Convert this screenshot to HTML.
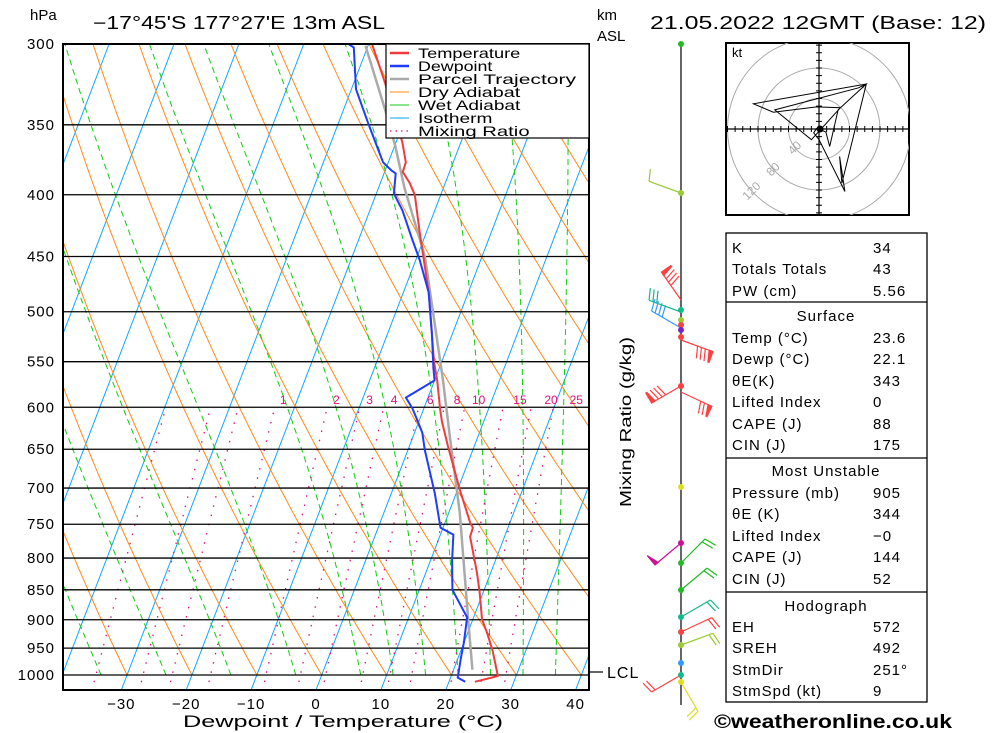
<!DOCTYPE html>
<html><head><meta charset="utf-8"><style>
html,body{margin:0;padding:0;background:#fff;}
svg{display:block;font-family:"Liberation Sans",sans-serif;}
</style></head><body>
<svg id="chart" width="1000" height="733" viewBox="0 0 1000 733" xmlns="http://www.w3.org/2000/svg">
<defs><clipPath id="plotClip"><rect x="63" y="44" width="526" height="646"/></clipPath>
<clipPath id="hodoClip"><rect x="726" y="43" width="183" height="172"/></clipPath></defs>
<g id="bg" clip-path="url(#plotClip)"></g>
<g id="grid"></g>
<g id="series" clip-path="url(#plotClip)"></g>
<rect x="63" y="44" width="526" height="646" fill="none" stroke="#000" stroke-width="2"/>
<g id="legend"></g>
<g id="labels"></g>
<g id="wind"></g>
<g id="hodo"></g>
<g id="table"></g>
</svg>
<script>
// ---- data ----
const pressureLevels=[300,350,400,450,500,550,600,650,700,750,800,850,900,950,1000];
const tempTicks=[-30,-20,-10,0,10,20,30,40];
const tempP=[1013,1002,953,923,899,855,823,768,755,748,703,647,617,603,570,550,482,428,400,391,383,376,362,323,300];
const tempT=[24.0,27.2,24.8,23.0,21.4,19.5,17.9,14.7,14.6,13.9,10.4,6.0,3.6,2.6,0.4,-1.2,-6.1,-11.2,-14.0,-15.5,-17.2,-17.3,-19.0,-25.2,-29.5];
const dewP=[1013,1005,966,941,896,850,803,765,755,707,651,630,617,601,589,570,557,521,482,453,436,412,399,384,382,376,367,349,327,302,300];
const dewT=[22.5,21.1,20.4,20.0,19.0,15.1,13.3,12.0,9.6,6.7,2.6,1.2,-0.1,-1.8,-3.4,0.0,-0.9,-3.2,-6.1,-9.4,-11.7,-15.0,-17.3,-18.2,-19.0,-20.8,-22.3,-25.4,-29.3,-32.1,-33.1];
const parcelP=[990,900,734,635,570,553,450,394,365,340,301];
const parcelT=[22.9,19.3,11.7,5.7,1.3,0.0,-8.8,-16.1,-19.8,-23.6,-30.4];
const mixRatios=[1,2,3,4,6,8,10,15,20,25];
const mixExtra=[0.2,0.4,0.6];
const dryStartT=[-60,-50,-40,-30,-20,-10,0,10,20,30,40,50,60,70,80,90,100,110,120,130,140,150,160,170,180];
const wetStartT=[-34,-24,-14,-4,6,11,16,21,26,31,36];
const hodoU=[0,9,14,25,62,-86,-60,-3,28,-10,-58,52,62,30,27,34,0,-7,-3];
const hodoV=[0,-4,-23,25,59,33,22,29,28,-14,25,54,59,-71,-36,-82,-14,-5,1];
const barbY=[193,300,312,328,340,386,392,543];
const barbAng=[200,235,200,210,20,150,25,140];
const barbN=[1,5,3,4,5,5,4,1];
const barbFlag=[0,1,0,0,1,1,1,1];
const barbCol=['#99cc33','#ff4040','#11bb88','#3399ff','#ff4040','#ff4040','#ff4040','#cc1199'];
const dotY=[44,193,310,320,325,330,337,386,487,543,563,590,617,632,645,663,675,682];
const dotCol=['#22bb22','#99cc33','#11bb88','#99cc33','#ff4040','#7722cc','#ff4040','#ff4040','#dddd22','#cc1199','#22bb22','#22bb22','#11bb88','#ff4040','#99cc33','#3399ff','#11bb88','#dddd22'];
const lowBarbY=[563,590,617,632,645,675,682];
const lowBarbAng=[-45,-40,-30,-25,-20,150,60];
const lowBarbCol=['#22bb22','#22bb22','#11bb88','#ff4040','#99cc33','#ff4040','#dddd22'];

// ---- axes ----
const NS='http://www.w3.org/2000/svg';
function yP(p){return 44+631*Math.log(p/300)/Math.log(1000/300);}
function xT(T,y){return 316+6.49*T+0.383*(690-y);}
function mk(tag,attrs,parent){const e=document.createElementNS(NS,tag);for(const k in attrs)e.setAttribute(k,attrs[k]);parent.appendChild(e);return e;}
const bg=document.getElementById('bg'),grid=document.getElementById('grid'),series=document.getElementById('series'),labels=document.getElementById('labels');

// isotherms
for(let T=-90;T<=40;T+=10){
  const l=mk('line',{x1:xT(T,690),y1:690,x2:xT(T,44),y2:44,stroke:'#11a6ff','stroke-width':1},bg);
  
  
}
// dry adiabats
dryStartT.forEach(T0=>{
  const th=T0+273.15;let d='';
  for(let p=1000;p>=290;p-=10){const T=th*Math.pow(p/1000,0.286)-273.15;const y=yP(p);d+=(d?'L':'M')+xT(T,y).toFixed(1)+' '+y.toFixed(1);}
  const e=mk('path',{d:d,fill:'none',stroke:'#ff8a1a','stroke-width':1},bg);
  
  
});
// wet adiabats
function es(Tc){return 6.112*Math.exp(17.67*Tc/(Tc+243.5));}
wetStartT.forEach(T0=>{
  let T=T0+273.15,d='';
  for(let p=1000;p>=290;p-=5){
    const y=yP(p);d+=(d?'L':'M')+xT(T-273.15,y).toFixed(1)+' '+y.toFixed(1);
    const e=es(T-273.15),rs=0.622*e/(p-e);
    const dTdp=(287*T+2.5e6*rs)/(p*(1004+2.5e6*2.5e6*rs*0.622/(287*T*T)));
    T-=dTdp*5;
  }
  const e=mk('path',{d:d,fill:'none',stroke:'#11cc11','stroke-width':1,'stroke-dasharray':'6 4'},bg);
  
  
});
// mixing ratio
function tdW(w,p){const e=w*p/(622+w);const l=Math.log(e/6.112);return 243.5*l/(17.67-l);}
mixRatios.concat(mixExtra).forEach(w=>{
  let d='';
  for(let p=1050;p>=600;p-=10){const y=yP(p);d+=(d?'L':'M')+xT(tdW(w,p),y).toFixed(1)+' '+y.toFixed(1);}
  const e=mk('path',{d:d,fill:'none',stroke:'#e0107f','stroke-width':1.3,'stroke-dasharray':'1.5 8'},bg);
  
  
});
mixRatios.forEach(w=>{
  const y=yP(600);
  const t=mk('text',{x:xT(tdW(w,600),y)+8+w*0.6,y:404,'font-size':12,fill:'#e0107f','text-anchor':'middle'},labels);
  t.textContent=String(w);
  
  
});
// pressure lines + labels
pressureLevels.forEach(p=>{
  const y=yP(p);
  const l=mk('line',{x1:63,y1:y,x2:589,y2:y,stroke:'#000','stroke-width':1.3},grid);
  
  
  const t=mk('text',{x:55,y:y+5,'font-size':15,'text-anchor':'end',fill:'#000','letter-spacing':1},labels);
  t.textContent=String(p);
  
  
});
tempTicks.forEach(T=>{
  const t=mk('text',{x:316+6.49*T,y:709,'font-size':15,'text-anchor':'middle',fill:'#000','letter-spacing':1},labels);
  t.textContent=(T<0?'\u2212':'')+Math.abs(T);
  
  
});
// profiles
function prof(P,T,col,w,name){
  let d='';P.forEach((p,i)=>{const y=yP(p);d+=(i?'L':'M')+xT(T[i],y).toFixed(1)+' '+y.toFixed(1);});
  const e=mk('path',{d:d,fill:'none',stroke:col,'stroke-width':w,'stroke-linejoin':'round'},series);
  
  
}
prof(parcelP,parcelT,'#aaaaaa',2.5,'parcel-trajectory-line');
prof(tempP,tempT,'#f03c3c',2,'temperature-line');
prof(dewP,dewT,'#1e3cff',2,'dewpoint-line');

// legend
const lg=document.getElementById('legend');
mk('rect',{x:386,y:44,width:203,height:94,fill:'#fff',stroke:'#000','stroke-width':1.2},lg);
const legItems=[['Temperature','#f03c3c',2.5,''],['Dewpoint','#1e3cff',2.5,''],['Parcel Trajectory','#aaaaaa',2.5,''],['Dry Adiabat','#ff8a1a',1,''],['Wet Adiabat','#11cc11',1,''],['Isotherm','#11a6ff',1,''],['Mixing Ratio','#e0107f',1.3,'1.5 4']];
legItems.forEach((it,i)=>{
  const y=53+i*13;
  const ln=mk('line',{x1:390,y1:y,x2:409,y2:y,stroke:it[1],'stroke-width':it[2],'stroke-dasharray':it[3]||'none'},lg);
  
  
  const t=mk('text',{x:418,y:y+5,'font-size':14,fill:'#000',textLength:it[0].length*9.3,lengthAdjust:'spacingAndGlyphs'},lg);
  t.textContent=it[0];
  
  
});

// headers & titles
function txt(x,y,s,size,opts,name){
  const t=mk('text',Object.assign({x:x,y:y,'font-size':size,fill:'#000'},opts||{}),labels);
  t.textContent=s;
  
  
  return t;
}
txt(30,20,'hPa',15,{},'y-axis-unit');
txt(93,29,'\u221217\u00b045\'S  177\u00b027\'E  13m  ASL',18,{textLength:292,lengthAdjust:'spacingAndGlyphs'},'station-title');
txt(597,20,'km',15,{},'km-label');
txt(597,41,'ASL',15,{},'asl-label');
txt(650,29,'21.05.2022  12GMT  (Base: 12)',18,{textLength:336,lengthAdjust:'spacingAndGlyphs'},'date-title');
txt(183,727,'Dewpoint / Temperature (\u00b0C)',17,{textLength:320,lengthAdjust:'spacingAndGlyphs'},'x-axis-title');
txt(631,507,'Mixing Ratio (g/kg)',16,{transform:'rotate(-90 631 507)',textLength:170,lengthAdjust:'spacingAndGlyphs'},'mixing-ratio-axis-title');
mk('line',{x1:589,y1:672,x2:603,y2:672,stroke:'#000','stroke-width':1.2},labels);
txt(607,678,'LCL',16,{'letter-spacing':1},'lcl-label');
txt(714,728,'\u00a9weatheronline.co.uk',19,{'font-weight':'bold',textLength:238,lengthAdjust:'spacingAndGlyphs'},'copyright');

// wind profile
const wind=document.getElementById('wind');
mk('line',{x1:681,y1:44,x2:681,y2:705,stroke:'#000','stroke-width':1.2},wind);
function barb(y,ang,n,flag,col){
  const a=ang*Math.PI/180,L=34;
  const x2=681+L*Math.cos(a),y2=y+L*Math.sin(a);
  const g=mk('g',{stroke:col,'stroke-width':1.2,fill:col},wind);
  
  
  mk('line',{x1:681,y1:y,x2:x2,y2:y2},g);
  const px=Math.cos(a+Math.PI/2),py=Math.sin(a+Math.PI/2);
  for(let k=0;k<n;k++){
    const f=1-k*0.12,bx=681+L*f*Math.cos(a),by=y+L*f*Math.sin(a);
    if(k===0&&flag){mk('polygon',{points:`${bx},${by} ${bx+12*px},${by+12*py} ${bx-4*Math.cos(a)},${by-4*Math.sin(a)}`},g);}
    else mk('line',{x1:bx,y1:by,x2:bx+12*px+3*Math.cos(a),y2:by+12*py+3*Math.sin(a)},g);
  }
}
barbY.forEach((y,i)=>barb(y,barbAng[i],barbN[i],barbFlag[i],barbCol[i]));
lowBarbY.forEach((y,i)=>barb(y,lowBarbAng[i],2,0,lowBarbCol[i]));
dotY.forEach((y,i)=>{
  const c=mk('circle',{cx:681,cy:y,r:3,fill:dotCol[i]},wind);
  
  
});

// hodograph
const hodo=document.getElementById('hodo');
const hc=[819,129],ks=30.5/40;
mk('rect',{x:726,y:43,width:183,height:172,fill:'#fff',stroke:'#000','stroke-width':2},hodo);
const hg=mk('g',{'clip-path':'url(#hodoClip)'},hodo);
[40,80,120].forEach(r=>{
  const c=mk('circle',{cx:hc[0],cy:hc[1],r:r*ks,fill:'none',stroke:'#aaa','stroke-width':1},hg);
  
  
  const lx=hc[0]-r*ks*0.707,ly=hc[1]+r*ks*0.707;
  const t=mk('text',{x:lx,y:ly,'font-size':12,fill:'#aaa','text-anchor':'middle',transform:`rotate(-45 ${lx} ${ly})`},hg);
  t.textContent=String(r);
  
  
});
mk('line',{x1:726,y1:hc[1],x2:909,y2:hc[1],stroke:'#000','stroke-width':1.2},hg);
mk('line',{x1:hc[0],y1:43,x2:hc[0],y2:215,stroke:'#000','stroke-width':1.2},hg);
for(let k=-120;k<=120;k+=10){if(!k)continue;
  mk('line',{x1:hc[0]+k*ks,y1:hc[1]-3,x2:hc[0]+k*ks,y2:hc[1]+3,stroke:'#000'},hg);
  mk('line',{x1:hc[0]-3,y1:hc[1]+k*ks,x2:hc[0]+3,y2:hc[1]+k*ks,stroke:'#000'},hg);}
let hd='';hodoU.forEach((u,i)=>{hd+=(i?'L':'M')+(hc[0]+u*ks).toFixed(1)+' '+(hc[1]-hodoV[i]*ks).toFixed(1);});
const hp=mk('path',{d:hd,fill:'none',stroke:'#000','stroke-width':1},hg);


mk('circle',{cx:hc[0]+1,cy:hc[1],r:3.5,fill:'#000'},hg);
mk('text',{x:732,y:57,'font-size':13,fill:'#000'},hodo).textContent='kt';

// table
const tb=document.getElementById('table');
mk('rect',{x:726,y:233,width:201,height:469,fill:'#fff',stroke:'#000','stroke-width':1.3},tb);
[302,458,592].forEach(y=>mk('line',{x1:726,y1:y,x2:927,y2:y,stroke:'#000','stroke-width':1.3},tb));
const rows=[
 [253,'K','34'],[274,'Totals Totals','43'],[296,'PW (cm)','5.56'],
 [321,'Surface',null],[343,'Temp (\u00b0C)','23.6'],[364,'Dewp (\u00b0C)','22.1'],[386,'\u03b8E(K)','343'],[407,'Lifted Index','0'],[429,'CAPE (J)','88'],[450,'CIN (J)','175'],
 [476,'Most Unstable',null],[498,'Pressure (mb)','905'],[519,'\u03b8E (K)','344'],[541,'Lifted Index','\u22120'],[562,'CAPE (J)','144'],[584,'CIN (J)','52'],
 [611,'Hodograph',null],[632,'EH','572'],[653,'SREH','492'],[675,'StmDir','251\u00b0'],[696,'StmSpd (kt)','9']];
rows.forEach(r=>{
  if(r[2]===null){
    const t=mk('text',{x:826,y:r[0],'font-size':15,'text-anchor':'middle',fill:'#000','letter-spacing':1},tb);
    t.textContent=r[1];
    
    
  } else {
    const a=mk('text',{x:732,y:r[0],'font-size':15,fill:'#000','letter-spacing':1},tb);
    a.textContent=r[1];
    
    
    const b=mk('text',{x:873,y:r[0],'font-size':15,fill:'#000','letter-spacing':1},tb);
    b.textContent=r[2];
    
    
  }
});
</script>
</body></html>
